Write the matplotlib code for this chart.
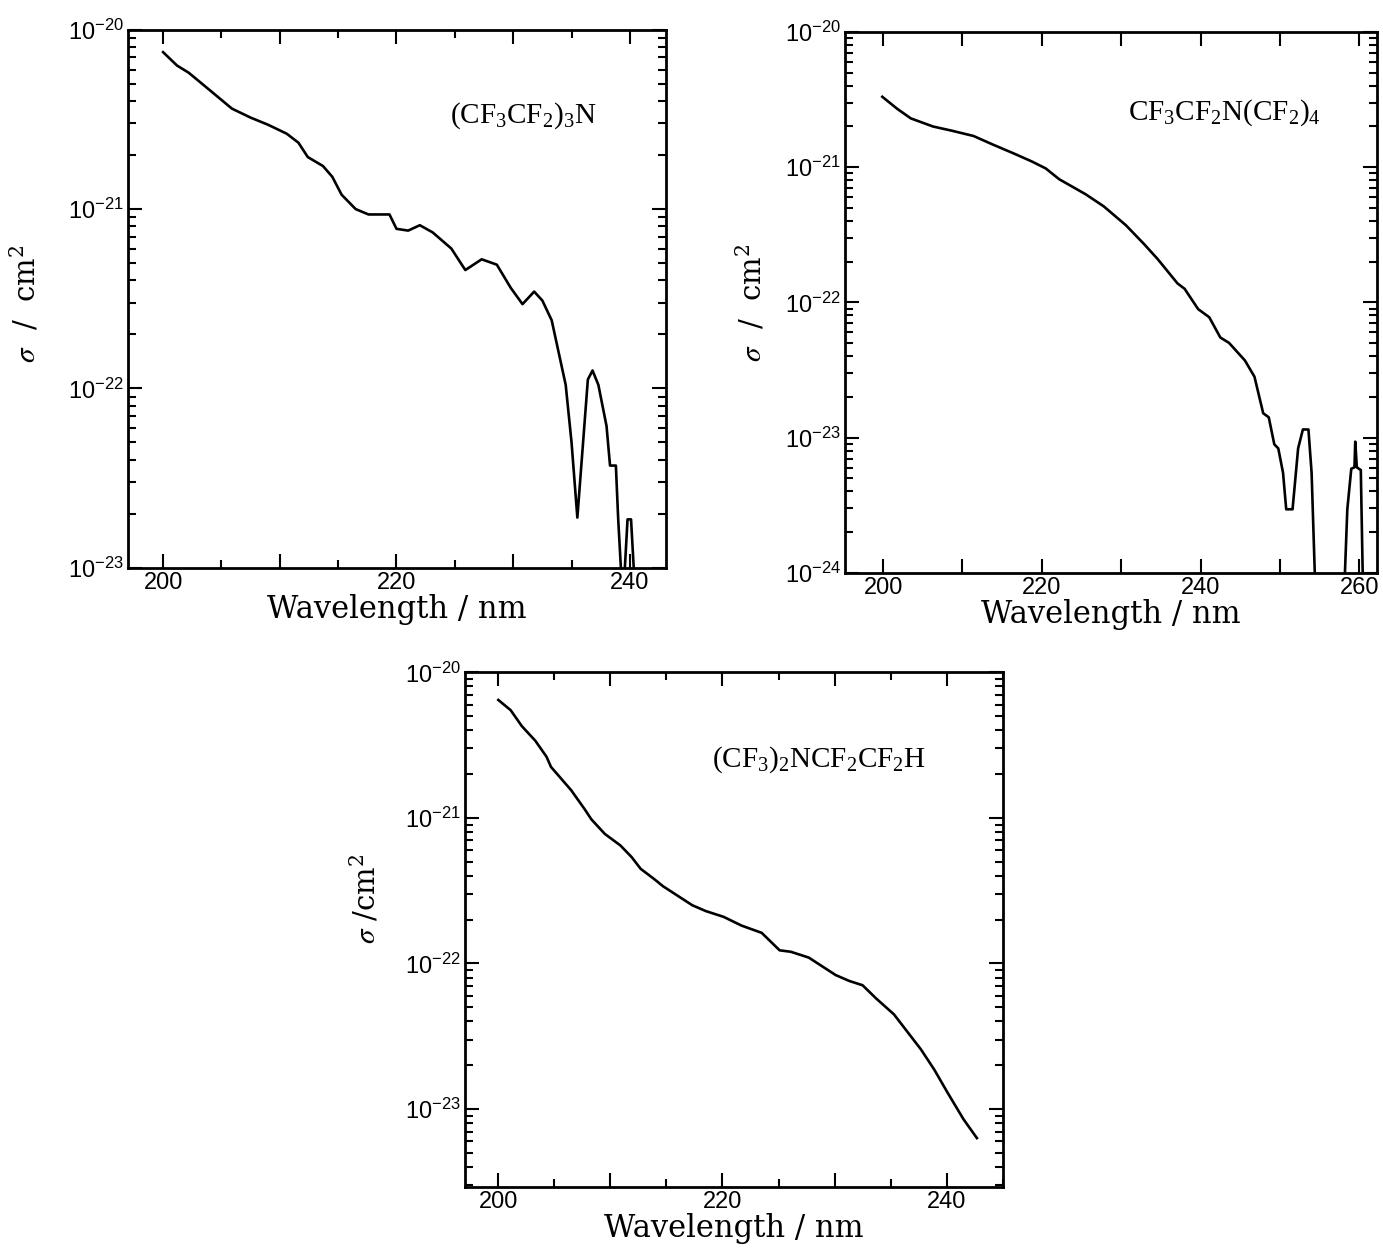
import matplotlib
matplotlib.use('Agg')
import matplotlib.pyplot as plt
import numpy as np
from matplotlib.ticker import LogLocator, MultipleLocator, NullFormatter, FuncFormatter

plt.rcParams['mathtext.fontset'] = 'stix'

# ---- (CF3CF2)3N ----
wl1 = [200.0, 201.2, 202.2, 203.5, 205.9, 207.5, 209.0, 210.6, 211.6, 212.4, 213.7, 214.5,
       215.3, 216.5, 217.6, 219.4, 220.0, 221.0, 222.0, 223.1, 224.7, 225.9, 227.3, 228.6,
       229.8, 230.8, 231.8, 232.5, 233.3, 233.9, 234.5, 235.0, 235.5, 236.4, 236.8, 237.3,
       238.0, 238.3, 238.8, 239.0, 239.4, 239.8, 240.1, 240.5]
lg1 = [-20.125, -20.20, -20.24, -20.31, -20.44, -20.49, -20.53, -20.58, -20.63, -20.71, -20.76, -20.82,
       -20.92, -21.00, -21.03, -21.03, -21.11, -21.12, -21.09, -21.13, -21.22, -21.34, -21.28, -21.31,
       -21.44, -21.53, -21.46, -21.51, -21.62, -21.80, -21.98, -22.30, -22.72, -21.95, -21.90, -21.98,
       -22.21, -22.43, -22.43, -22.73, -23.2, -22.73, -22.73, -23.2]

# ---- CF3CF2N(CF2)4 ----
wl2 = [199.9, 201.8, 203.5, 206.3, 208.6, 211.4, 213.7, 216.5, 218.8, 220.5, 222.2, 225.5,
       227.8, 230.6, 232.9, 234.6, 237.1, 238.0, 239.7, 241.1, 242.5, 243.6, 245.6, 246.8,
       247.9, 248.6, 249.3, 249.8, 250.4, 250.8, 251.6, 252.3, 252.9, 253.6, 254.0, 254.4,
       254.6, 258.0, 258.2, 258.5, 259.0, 259.4, 259.5, 259.7, 260.2, 260.5]
lg2 = [-20.48, -20.57, -20.64, -20.70, -20.73, -20.77, -20.83, -20.90, -20.96, -21.01, -21.09, -21.20,
       -21.29, -21.43, -21.57, -21.68, -21.86, -21.90, -22.05, -22.11, -22.26, -22.30, -22.43, -22.55,
       -22.82, -22.85, -23.05, -23.08, -23.26, -23.53, -23.53, -23.08, -22.94, -22.94, -23.26, -24.0,
       -25.0, -25.0, -24.0, -23.53, -23.23, -23.22, -23.03, -23.22, -23.24, -24.2]

# ---- (CF3)2NCF2CF2H ----
wl3 = [200.0, 201.1, 202.1, 203.3, 204.3, 204.7, 206.5, 207.7, 208.3, 209.5, 210.9, 211.9,
       212.7, 213.9, 214.7, 216.1, 217.3, 218.5, 220.1, 221.7, 223.5, 225.1, 226.1, 227.7,
       228.9, 230.1, 231.3, 232.5, 233.7, 235.3, 236.5, 237.7, 238.9, 240.1, 241.5, 242.7]
lg3 = [-20.19, -20.26, -20.37, -20.47, -20.58, -20.65, -20.81, -20.94, -21.01, -21.11, -21.19, -21.27,
       -21.35, -21.42, -21.47, -21.54, -21.60, -21.64, -21.68, -21.74, -21.79, -21.91, -21.92, -21.96,
       -22.02, -22.08, -22.12, -22.15, -22.24, -22.35, -22.47, -22.59, -22.73, -22.89, -23.07, -23.20]

names = [r'(CF$\mathregular{_3}$CF$\mathregular{_2}$)$\mathregular{_3}$N',
         r'CF$\mathregular{_3}$CF$\mathregular{_2}$N(CF$\mathregular{_2}$)$\mathregular{_4}$',
         r'(CF$\mathregular{_3}$)$\mathregular{_2}$NCF$\mathregular{_2}$CF$\mathregular{_2}$H']
ylabels = [r'$\sigma$  /  cm$\mathregular{^2}$', r'$\sigma$  /  cm$\mathregular{^2}$',
           r'$\sigma$ /cm$\mathregular{^2}$']

panels = [
    # rect, x, log sigma, xlim, ylim, x tick step, x minor step, name pos, ylabel pos
    ([0.0926, 0.549, 0.389, 0.4274], wl1, lg1, (197.0, 243.1), (1e-23, 1e-20), 10, 5,
     (0.598, 0.84), (-0.16, 0.49)),
    ([0.611, 0.545, 0.385, 0.4297], wl2, lg2, (195.2, 262.3), (1e-24, 1e-20), 10, 10,
     (0.532, 0.85), (-0.145, 0.5)),
    ([0.336, 0.057, 0.389, 0.409], wl3, lg3, (197.0, 245.0), (2.9e-24, 1e-20), 10, 5,
     (0.46, 0.83), (-0.154, 0.56)),
]

fig = plt.figure(figsize=(13.83, 12.59), dpi=100)

for i, (rect, wl, lg, xlim, ylim, xstep, xmin, tpos, ypos) in enumerate(panels):
    ax = fig.add_axes(rect)
    ax.plot(wl, 10.0 ** np.array(lg), color='black', lw=1.9)
    ax.set_yscale('log')
    ax.set_xlim(*xlim)
    ax.set_ylim(*ylim)

    ax.xaxis.set_major_locator(MultipleLocator(xstep))
    ax.xaxis.set_minor_locator(MultipleLocator(xmin))
    ax.xaxis.set_major_formatter(FuncFormatter(lambda v, p: '%d' % v if round(v) % 20 == 0 else ''))
    ax.yaxis.set_major_locator(LogLocator(base=10, numticks=10))
    ax.yaxis.set_minor_locator(LogLocator(base=10, subs=np.arange(2, 10), numticks=20))
    ax.yaxis.set_minor_formatter(NullFormatter())
    ax.yaxis.set_major_formatter(
        FuncFormatter(lambda v, p: r'$\mathregular{10^{%d}}$' % round(np.log10(v))))

    ax.tick_params(which='both', direction='in', top=True, right=True, width=1.5)
    ax.tick_params(which='major', length=10, labelsize=17, pad=3)
    ax.tick_params(which='minor', length=6)
    for lbl in ax.get_xticklabels() + ax.get_yticklabels():
        lbl.set_family('Liberation Sans')
    for s in ax.spines.values():
        s.set_linewidth(2.0)

    ax.set_xlabel('Wavelength / nm', family='DejaVu Serif', fontsize=22, labelpad=0)
    ax.set_ylabel(ylabels[i], family='DejaVu Serif', fontsize=21)
    ax.yaxis.set_label_coords(*ypos)
    ax.text(tpos[0], tpos[1], names[i], transform=ax.transAxes, family='Liberation Serif',
            fontsize=21, ha='left', va='center')

fig.savefig('out.png', dpi=100)
